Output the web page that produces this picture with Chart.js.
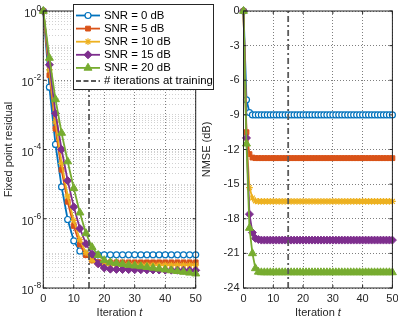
<!DOCTYPE html>
<html>
<head>
<meta charset="utf-8">
<script src="https://cdn.jsdelivr.net/npm/chart.js@4/dist/chart.umd.min.js"></script>
<style>
  body { margin: 0; background: #fff; }
  #box { position: relative; width: 398px; height: 320px; }
  canvas { position: absolute; left: 0; top: 0; }
</style>
</head>
<body>
<div id="box">
  <canvas id="nmse" width="398" height="320"></canvas>
  <canvas id="resid" width="398" height="320"></canvas>
</div>
<script>
// etiquetas
const snrLabels = ["SNR = 0 dB", "SNR = 5 dB", "SNR = 10 dB", "SNR = 15 dB", "SNR = 20 dB"];
const trainLabel = "# iterations at training";
const trainIter = 15;

// iteraciones (residuo con marcador cada 2, NMSE cada 1)
const iterEven = [0, 2, 4, 6, 8, 10, 12, 14, 16, 18, 20, 22, 24,
  26, 28, 30, 32, 34, 36, 38, 40, 42, 44, 46, 48, 50];
const iterAll = [0, 1, 2, 3, 4, 5, 6, 7, 8, 9,
  10, 11, 12, 13, 14, 15, 16, 17, 18, 19,
  20, 21, 22, 23, 24, 25, 26, 27, 28, 29,
  30, 31, 32, 33, 34, 35, 36, 37, 38, 39,
  40, 41, 42, 43, 44, 45, 46, 47, 48, 49, 50];

// residuo de punto fijo
const resid0 = [1, 6.3e-3, 1.4e-4, 8.3e-6, 9.5e-7, 2.3e-7, 1.17e-7, 9.5e-8, 9.1e-8, 9.1e-8, 9.1e-8, 9.1e-8, 9.1e-8,
  9.1e-8, 9.1e-8, 9.1e-8, 9.1e-8, 9.1e-8, 9.1e-8, 9.1e-8, 9.1e-8, 9.1e-8, 9.1e-8, 9.1e-8, 9.1e-8, 9.1e-8];
const resid5 = [1, 1.4e-2, 4.0e-4, 2.6e-5, 3.1e-6, 6.2e-7, 1.8e-7, 8.9e-8, 6.3e-8, 5.6e-8, 5.5e-8, 5.5e-8, 5.5e-8,
  5.5e-8, 5.5e-8, 5.5e-8, 5.5e-8, 5.5e-8, 5.5e-8, 5.5e-8, 5.5e-8, 5.5e-8, 5.5e-8, 5.5e-8, 5.5e-8, 5.5e-8];
const resid10 = [1, 2.0e-2, 6.3e-4, 4.0e-5, 4.5e-6, 8.9e-7, 2.5e-7, 1.05e-7, 6.3e-8, 5.0e-8, 4.6e-8, 4.6e-8, 4.6e-8,
  4.6e-8, 4.6e-8, 4.6e-8, 4.6e-8, 4.6e-8, 4.6e-8, 4.6e-8, 4.6e-8, 4.6e-8, 4.6e-8, 4.6e-8, 4.6e-8, 4.6e-8];
const resid15 = [1, 2.8e-2, 1.1e-3, 1.0e-4, 1.26e-5, 2.2e-6, 5.2e-7, 1.9e-7, 9.5e-8, 5.0e-8, 3.8e-8, 3.5e-8, 3.45e-8,
  3.42e-8, 3.4e-8, 3.38e-8, 3.36e-8, 3.34e-8, 3.32e-8, 3.3e-8, 3.28e-8, 3.27e-8, 3.26e-8, 3.25e-8, 3.24e-8, 3.23e-8];
const resid20 = [1, 4.4e-2, 2.8e-3, 3.0e-4, 4.5e-5, 7.6e-6, 1.5e-6, 3.8e-7, 1.5e-7, 8.9e-8, 6.3e-8, 5.5e-8, 5.2e-8,
  4.9e-8, 4.6e-8, 4.4e-8, 4.2e-8, 4.0e-8, 3.8e-8, 3.6e-8, 3.4e-8, 3.2e-8, 3.05e-8, 2.9e-8, 2.75e-8, 2.6e-8];

// NMSE (dB)
const nmse0 = [0, -7.7, -8.8, -9.0, -9.0, -9.0, -9.0, -9.0, -9.0, -9.0,
  -9.0, -9.0, -9.0, -9.0, -9.0, -9.0, -9.0, -9.0, -9.0, -9.0,
  -9.0, -9.0, -9.0, -9.0, -9.0, -9.0, -9.0, -9.0, -9.0, -9.0,
  -9.0, -9.0, -9.0, -9.0, -9.0, -9.0, -9.0, -9.0, -9.0, -9.0,
  -9.0, -9.0, -9.0, -9.0, -9.0, -9.0, -9.0, -9.0, -9.0, -9.0, -9.0];
const nmse5 = [0, -10.5, -12.4, -12.7, -12.75, -12.75, -12.75, -12.75, -12.75, -12.75,
  -12.75, -12.75, -12.75, -12.75, -12.75, -12.75, -12.75, -12.75, -12.75, -12.75,
  -12.75, -12.75, -12.75, -12.75, -12.75, -12.75, -12.75, -12.75, -12.75, -12.75,
  -12.75, -12.75, -12.75, -12.75, -12.75, -12.75, -12.75, -12.75, -12.75, -12.75,
  -12.75, -12.75, -12.75, -12.75, -12.75, -12.75, -12.75, -12.75, -12.75, -12.75, -12.75];
const nmse10 = [0, -11.0, -15.3, -16.2, -16.45, -16.5, -16.5, -16.5, -16.5, -16.5,
  -16.5, -16.5, -16.5, -16.5, -16.5, -16.5, -16.5, -16.5, -16.5, -16.5,
  -16.5, -16.5, -16.5, -16.5, -16.5, -16.5, -16.5, -16.5, -16.5, -16.5,
  -16.5, -16.5, -16.5, -16.5, -16.5, -16.5, -16.5, -16.5, -16.5, -16.5,
  -16.5, -16.5, -16.5, -16.5, -16.5, -16.5, -16.5, -16.5, -16.5, -16.5, -16.5];
const nmse15 = [0, -11.0, -17.6, -19.2, -19.7, -19.8, -19.85, -19.85, -19.85, -19.85,
  -19.85, -19.85, -19.85, -19.85, -19.85, -19.85, -19.85, -19.85, -19.85, -19.85,
  -19.85, -19.85, -19.85, -19.85, -19.85, -19.85, -19.85, -19.85, -19.85, -19.85,
  -19.85, -19.85, -19.85, -19.85, -19.85, -19.85, -19.85, -19.85, -19.85, -19.85,
  -19.85, -19.85, -19.85, -19.85, -19.85, -19.85, -19.85, -19.85, -19.85, -19.85, -19.85];
const nmse20 = [0, -11.5, -18.8, -21.0, -22.3, -22.6, -22.65, -22.65, -22.65, -22.65,
  -22.65, -22.65, -22.65, -22.65, -22.65, -22.65, -22.65, -22.65, -22.65, -22.65,
  -22.65, -22.65, -22.65, -22.65, -22.65, -22.65, -22.65, -22.65, -22.65, -22.65,
  -22.65, -22.65, -22.65, -22.65, -22.65, -22.65, -22.65, -22.65, -22.65, -22.65,
  -22.65, -22.65, -22.65, -22.65, -22.65, -22.65, -22.65, -22.65, -22.65, -22.65, -22.65];

// ticks
const iterTicks = [0, 10, 20, 30, 40, 50];
const residTicks = [1, 1e-2, 1e-4, 1e-6, 1e-8];
const residExp = ["0", "-2", "-4", "-6", "-8"];
const nmseTicks = [0, -3, -6, -9, -12, -15, -18, -21, -24];

const fam = "'Liberation Sans', Arial, Helvetica, sans-serif";
Chart.defaults.font.family = fam;
Chart.defaults.font.size = 11;
Chart.defaults.color = "#262626";
Chart.defaults.animation = false;

const colors = ["#0072BD", "#D95319", "#EDB120", "#7E2F8E", "#77AC30"];
const markers = [
  { pointStyle: "circle", radius: 3, fill: "#ffffff", bw: 1.2 },
  { pointStyle: "rect", radius: 3.4, fill: null, bw: 1 },
  { pointStyle: "star", radius: 3.4, fill: null, bw: 1.2 },
  { pointStyle: "rectRot", radius: 4, fill: null, bw: 1 },
  { pointStyle: "triangle", radius: 4.6, fill: null, bw: 1 }
];
const lineGray = "#5a5a5a";
const majorGrid = "rgba(0,0,0,0.5)";
const minorGrid = "rgba(0,0,0,0.18)";

function serie(i, xs, ys) {
  const m = markers[i];
  return {
    label: snrLabels[i],
    data: xs.map((x, k) => ({ x: x, y: ys[k] })),
    borderColor: colors[i],
    backgroundColor: m.fill || colors[i],
    borderWidth: 1.8,
    pointStyle: m.pointStyle,
    pointRadius: m.radius,
    pointBorderWidth: m.bw,
    pointBorderColor: colors[i],
    pointBackgroundColor: m.fill || colors[i],
    order: 5 - i,
    clip: false
  };
}

function trainLine(y0, y1) {
  return {
    label: trainLabel,
    data: [{ x: trainIter, y: y0 }, { x: trainIter, y: y1 }],
    borderColor: lineGray, borderWidth: 1.8, borderDash: [6, 3, 2, 3],
    pointRadius: 0, order: 0
  };
}

function xScale() {
  return {
    type: "linear", min: 0, max: 50,
    afterBuildTicks: s => { s.ticks = iterTicks.map(v => ({ value: v })); },
    afterFit: s => { s.height = 32; s.paddingLeft = 0; s.paddingRight = 0; },
    grid: { drawTicks: false, color: majorGrid },
    border: { display: false, dash: [1, 2] },
    ticks: { padding: 4, maxRotation: 0, autoSkip: false }
  };
}

function isMajorResid(v) {
  return residTicks.some(t => Math.abs(v / t - 1) < 1e-6);
}

function drawBox(ctx, a, xs, xv, ys, yv) {
  ctx.strokeStyle = "#262626";
  ctx.lineWidth = 1;
  ctx.strokeRect(a.left, a.top, a.right - a.left, a.bottom - a.top);
  ctx.beginPath();
  xv.forEach(v => {
    const px = xs.getPixelForValue(v);
    ctx.moveTo(px, a.bottom); ctx.lineTo(px, a.bottom - 3);
    ctx.moveTo(px, a.top); ctx.lineTo(px, a.top + 3);
  });
  yv.forEach(v => {
    const py = ys.getPixelForValue(v);
    ctx.moveTo(a.left, py); ctx.lineTo(a.left + 3, py);
    ctx.moveTo(a.right, py); ctx.lineTo(a.right - 3, py);
  });
  ctx.stroke();
}

function xTitle(ctx, cx, cy) {
  ctx.fillStyle = "#262626";
  ctx.textAlign = "left";
  ctx.textBaseline = "middle";
  ctx.font = "11px " + fam;
  const w1 = ctx.measureText("Iteration ").width;
  ctx.font = "italic 11px " + fam;
  const w2 = ctx.measureText("t").width;
  const x = cx - (w1 + w2) / 2;
  ctx.font = "11px " + fam;
  ctx.fillText("Iteration ", x, cy);
  ctx.font = "italic 11px " + fam;
  ctx.fillText("t", x + w1, cy);
}

function yTitle(ctx, txt, cx, cy) {
  ctx.save();
  ctx.translate(cx, cy);
  ctx.rotate(-Math.PI / 2);
  ctx.fillStyle = "#262626";
  ctx.textAlign = "center";
  ctx.textBaseline = "middle";
  ctx.font = "11px " + fam;
  ctx.fillText(txt, 0, 0);
  ctx.restore();
}

function legend(ctx) {
  const L = 73.5, T = 4.5, R = 213.5, B = 89.5;
  ctx.fillStyle = "#ffffff";
  ctx.fillRect(L, T, R - L, B - T);
  ctx.strokeStyle = "#262626";
  ctx.lineWidth = 1;
  ctx.strokeRect(L, T, R - L, B - T);
  ctx.font = "11.4px " + fam;
  ctx.textAlign = "left";
  ctx.textBaseline = "middle";
  const rows = snrLabels.concat([trainLabel]);
  rows.forEach((txt, i) => {
    const y = 15.5 + i * 13.1;
    ctx.save();
    if (i < 5) {
      ctx.strokeStyle = colors[i];
      ctx.lineWidth = 1.8;
      ctx.beginPath(); ctx.moveTo(76, y); ctx.lineTo(100, y); ctx.stroke();
      const m = markers[i];
      ctx.fillStyle = m.fill || colors[i];
      ctx.strokeStyle = colors[i];
      ctx.lineWidth = m.bw;
      Chart.helpers.drawPoint(ctx, { pointStyle: m.pointStyle, radius: m.radius, rotation: 0, borderWidth: m.bw }, 88, y);
    } else {
      ctx.strokeStyle = lineGray;
      ctx.lineWidth = 1.8;
      ctx.setLineDash([5, 2.5]);
      ctx.beginPath(); ctx.moveTo(76, y); ctx.lineTo(100, y); ctx.stroke();
    }
    ctx.restore();
    ctx.fillStyle = "#000000";
    ctx.fillText(txt, 104, y);
  });
}

const residDeco = {
  id: "residDeco",
  afterDraw(chart) {
    const ctx = chart.ctx, a = chart.chartArea, xs = chart.scales.x, ys = chart.scales.y;
    ctx.save();
    drawBox(ctx, a, xs, iterTicks, ys, residTicks);
    ctx.fillStyle = "#262626";
    ctx.textAlign = "left";
    ctx.textBaseline = "middle";
    residTicks.forEach((v, i) => {
      const y = ys.getPixelForValue(v);
      ctx.font = "11px " + fam;
      const wb = ctx.measureText("10").width;
      ctx.font = "8.5px " + fam;
      const we = ctx.measureText(residExp[i]).width;
      const x0 = a.left - 2 - wb - we;
      ctx.font = "11px " + fam;
      ctx.fillText("10", x0, y + 3);
      ctx.font = "8.5px " + fam;
      ctx.fillText(residExp[i], x0 + wb, y - 2.5);
    });
    yTitle(ctx, "Fixed point residual", 8.5, (a.top + a.bottom) / 2);
    xTitle(ctx, (a.left + a.right) / 2, 313);
    legend(ctx);
    ctx.restore();
  }
};

const nmseDeco = {
  id: "nmseDeco",
  afterDraw(chart) {
    const ctx = chart.ctx, a = chart.chartArea, xs = chart.scales.x, ys = chart.scales.y;
    ctx.save();
    drawBox(ctx, a, xs, iterTicks, ys, nmseTicks);
    yTitle(ctx, "NMSE (dB)", 207, (a.top + a.bottom) / 2);
    xTitle(ctx, (a.left + a.right) / 2, 313);
    ctx.restore();
  }
};

const commonPlugins = { legend: { display: false }, tooltip: { enabled: false } };

new Chart(document.getElementById("nmse"), {
  type: "line",
  data: {
    datasets: [
      serie(0, iterAll, nmse0), serie(1, iterAll, nmse5), serie(2, iterAll, nmse10),
      serie(3, iterAll, nmse15), serie(4, iterAll, nmse20),
      trainLine(-24, 0)
    ]
  },
  options: {
    responsive: false,
    layout: { padding: { left: 200, right: 1, top: 11, bottom: 0 } },
    plugins: commonPlugins,
    scales: {
      x: xScale(),
      y: {
        type: "linear", min: -24, max: 0,
        afterBuildTicks: s => { s.ticks = nmseTicks.map(v => ({ value: v })); },
        afterFit: s => { s.width = 43.5; s.paddingTop = 0; s.paddingBottom = 0; },
        grid: { drawTicks: false, color: majorGrid },
        border: { display: false, dash: [1, 2] },
        ticks: { padding: 4, autoSkip: false }
      }
    }
  },
  plugins: [nmseDeco]
});

new Chart(document.getElementById("resid"), {
  type: "line",
  data: {
    datasets: [
      serie(0, iterEven, resid0), serie(1, iterEven, resid5), serie(2, iterEven, resid10),
      serie(3, iterEven, resid15), serie(4, iterEven, resid20),
      trainLine(1e-8, 1)
    ]
  },
  options: {
    responsive: false,
    layout: { padding: { left: 0, right: 202.3, top: 11, bottom: 0 } },
    plugins: commonPlugins,
    scales: {
      x: xScale(),
      y: {
        type: "logarithmic", min: 1e-8, max: 1,
        afterBuildTicks: s => {
          const t = [];
          for (let e = -8; e < 0; e++) for (let m = 1; m < 10; m++) t.push({ value: m * Math.pow(10, e) });
          t.push({ value: 1 });
          s.ticks = t;
        },
        afterFit: s => { s.width = 43.3; s.paddingTop = 0; s.paddingBottom = 0; },
        grid: { drawTicks: false, color: c => isMajorResid(c.tick.value) ? majorGrid : minorGrid },
        border: { display: false, dash: [1, 2] },
        ticks: { autoSkip: false, callback: () => "" }
      }
    }
  },
  plugins: [residDeco]
});
</script>
</body>
</html>
